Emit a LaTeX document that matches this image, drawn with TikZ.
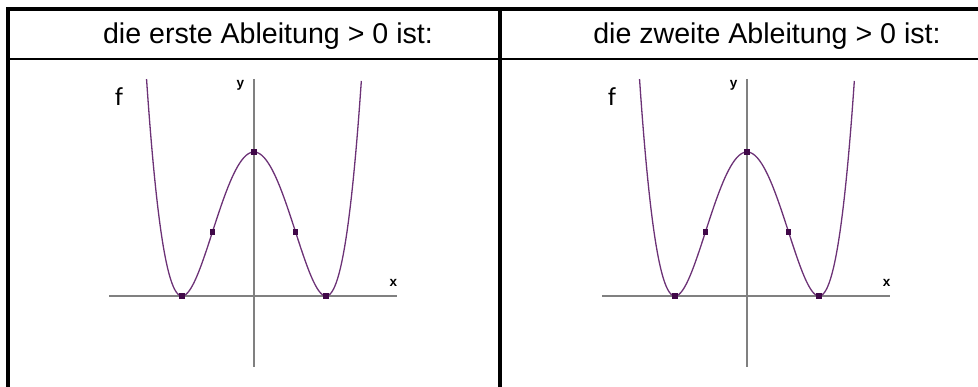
\documentclass[tikz,border=0pt]{standalone}
\usepackage{fontspec}
\setmainfont{Liberation Sans}
\newfontfamily\flabfont{Carlito}
\definecolor{curvecol}{RGB}{108,50,118}
\definecolor{dotcol}{RGB}{64,8,72}
\definecolor{axiscol}{RGB}{128,128,128}
\tikzset{
  frameline/.style={line width=4pt,black},
  sepline/.style={line width=2.5pt,black},
  axisline/.style={line width=1.6pt,axiscol},
  curveline/.style={line width=1.3pt,curvecol},
  headtext/.style={font=\fontsize{28.6}{32}\selectfont,inner sep=0pt,anchor=base},
  flabel/.style={font=\flabfont\fontsize{26}{28}\selectfont,inner sep=0pt},
  axlabel/.style={font=\bfseries\fontsize{13.5}{14}\selectfont,inner sep=0pt},
  ptbox/.style={fill=dotcol,minimum size=5.5pt,inner sep=0pt,draw=none}
}
\begin{document}
\begin{tikzpicture}[x=1pt,y=-1pt]
\useasboundingbox (0,0) rectangle (978,387);
% table frame
\draw[line width=3.5pt] (6,9) -- (978,9);
\draw[sepline] (8,59) -- (978,59);
\draw[frameline] (8,7.25) -- (8,387);
\draw[frameline] (500,7.25) -- (500,387);
% headers
\node[headtext] (h1) at (268,44) {die erste Ableitung > 0 ist:};
\node[headtext] (h2) at (767,44) {die zweite Ableitung > 0 ist:};
% panels
\foreach \dx/\nm in {0/a,493/b}{
  \begin{scope}[xshift=\dx pt]
    \draw[axisline] (109,296) -- (397,296);
    \draw[axisline] (254,79) -- (254,367);
    \draw[curveline] plot[domain=-1.4925:1.4925,samples=240,smooth]
      ({254+72*\x},{296-144*(\x*\x-1)*(\x*\x-1)});
    \node[ptbox] (\nm p1) at (182,296) {};
    \node[ptbox] (\nm p2) at ({254-41.57},232) {};
    \node[ptbox] (\nm p3) at (254,152) {};
    \node[ptbox] (\nm p4) at ({254+41.57},232) {};
    \node[ptbox] (\nm p5) at (326,296) {};
    \node[flabel] (\nm f) at (119,97) {f};
    \node[axlabel] (\nm y) at (240.5,85) {y};
    \node[axlabel] (\nm x) at (393.5,283) {x};
  \end{scope}
}
\end{tikzpicture}
\end{document}
